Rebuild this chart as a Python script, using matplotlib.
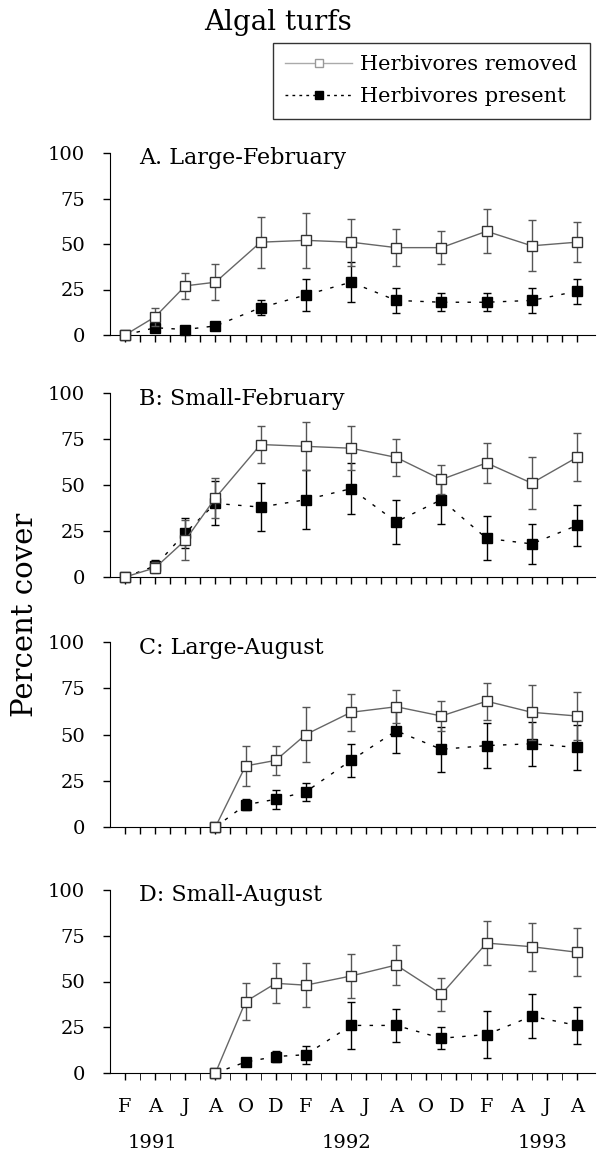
import matplotlib
matplotlib.use("Agg")
import matplotlib.pyplot as plt
from matplotlib.lines import Line2D

# sampling months, counted from February 1991 (0) to August 1993 (30)
months_feb = [0, 2, 4, 6, 9, 12, 15, 18, 21, 24, 27, 30]
months_aug = [6, 8, 10, 12, 15, 18, 21, 24, 27, 30]

panel_titles = ["A. Large-February", "B: Small-February",
                "C: Large-August", "D: Small-August"]

a_removed = [0, 10, 27, 29, 51, 52, 51, 48, 48, 57, 49, 51]
a_removed_err = [0, 5, 7, 10, 14, 15, 13, 10, 9, 12, 14, 11]
a_present = [0, 4, 3, 5, 15, 22, 29, 19, 18, 18, 19, 24]
a_present_err = [0, 2, 1, 1, 4, 9, 11, 7, 5, 5, 7, 7]

b_removed = [0, 5, 20, 43, 72, 71, 70, 65, 53, 62, 51, 65]
b_removed_err = [0, 3, 11, 11, 10, 13, 12, 10, 8, 11, 14, 13]
b_present = [0, 6, 24, 40, 38, 42, 48, 30, 42, 21, 18, 28]
b_present_err = [0, 3, 8, 12, 13, 16, 14, 12, 13, 12, 11, 11]

c_removed = [0, 33, 36, 50, 62, 65, 60, 68, 62, 60]
c_removed_err = [0, 11, 8, 15, 10, 9, 8, 10, 15, 13]
c_present = [0, 12, 15, 19, 36, 52, 42, 44, 45, 43]
c_present_err = [0, 3, 5, 5, 9, 12, 12, 12, 12, 12]

d_removed = [0, 39, 49, 48, 53, 59, 43, 71, 69, 66]
d_removed_err = [0, 10, 11, 12, 12, 11, 9, 12, 13, 13]
d_present = [0, 6, 9, 10, 26, 26, 19, 21, 31, 26]
d_present_err = [0, 1, 3, 5, 13, 9, 6, 13, 12, 10]

month_labels = ["F", "A", "J", "A", "O", "D", "F", "A", "J", "A",
                "O", "D", "F", "A", "J", "A"]
year_labels = ["1991", "1992", "1993"]
year_months = [1.8, 14.7, 27.7]

panels = [
    (months_feb, a_removed, a_removed_err, a_present, a_present_err),
    (months_feb, b_removed, b_removed_err, b_present, b_present_err),
    (months_aug, c_removed, c_removed_err, c_present, c_present_err),
    (months_aug, d_removed, d_removed_err, d_present, d_present_err),
]

plt.rcParams['font.family'] = ['DejaVu Serif']

W, H = 601, 1152
fig = plt.figure(figsize=(W / 100, H / 100), dpi=100)

# (bottom, top) of each panel in pixels
rows = [(335, 153), (577, 393), (827, 642), (1073, 890)]
left_px, right_px = 110, 595

removed_color = "#666666"

for i, (ax_pos, data) in enumerate(zip(rows, panels)):
    bot, top = ax_pos
    ax = fig.add_axes([left_px / W, 1 - bot / H, (right_px - left_px) / W, (bot - top) / H])
    x, rem, rem_err, pres, pres_err = data

    ax.errorbar(x, pres, yerr=pres_err, color="black", ls=(0, (2.5, 6)), lw=1.0,
                marker="s", ms=6.5, mfc="black", mec="black",
                ecolor="black", elinewidth=1.0, capsize=3, clip_on=False, zorder=3)
    ax.errorbar(x, rem, yerr=rem_err, color=removed_color, ls="-", lw=1.0,
                marker="s", ms=7.5, mfc="white", mec="#333333", mew=1.0,
                ecolor="#555555", elinewidth=1.0, capsize=3, clip_on=False, zorder=4)

    ax.set_xlim(-1, 31.2)
    ax.set_ylim(0, 100)
    ax.set_yticks([0, 25, 50, 75, 100])
    ax.set_xticks(range(0, 31))
    ax.tick_params(axis="both", direction="out", length=5, width=1, labelsize=14)
    ax.tick_params(axis="y", pad=13)
    for s in ["top", "right"]:
        ax.spines[s].set_visible(False)
    ax.text(0.06, 0.97, panel_titles[i], transform=ax.transAxes,
            fontsize=16, ha="left", va="center")

    if i == 3:
        ax.set_xticks(range(0, 31, 2))
        ax.set_xticklabels(month_labels, fontsize=14)
        ax.set_xticks(range(0, 31), minor=True)
        ax.tick_params(axis="x", which="both", length=5, pad=13)
        for yr, m in zip(year_labels, year_months):
            ax.text(m, -0.38, yr, transform=ax.get_xaxis_transform(),
                    ha="center", va="center", fontsize=14)
    else:
        ax.set_xticklabels([])

fig.text(25 / W, 1 - 615 / H, "Percent cover", rotation=90,
         ha="center", va="center", fontsize=21)
fig.text(278 / W, 1 - 22 / H, "Algal turfs", ha="center", va="center", fontsize=20)

handles = [
    Line2D([], [], color="#aaaaaa", ls="-", lw=1.0, marker="s", ms=6,
           mfc="white", mec="#999999"),
    Line2D([], [], color="black", ls=(0, (2, 3)), lw=1.0, marker="s", ms=6,
           mfc="black", mec="black"),
]
leg = fig.legend(handles, ["Herbivores removed", "Herbivores present"],
                 loc="upper right", bbox_to_anchor=(590 / W, 1 - 43 / H),
                 borderaxespad=0, fontsize=15, frameon=True, fancybox=False,
                 edgecolor="black", handlelength=3.2, handletextpad=0.4,
                 borderpad=0.6, labelspacing=0.6)
leg.get_frame().set_linewidth(1.0)

fig.savefig("out.png", dpi=100)
